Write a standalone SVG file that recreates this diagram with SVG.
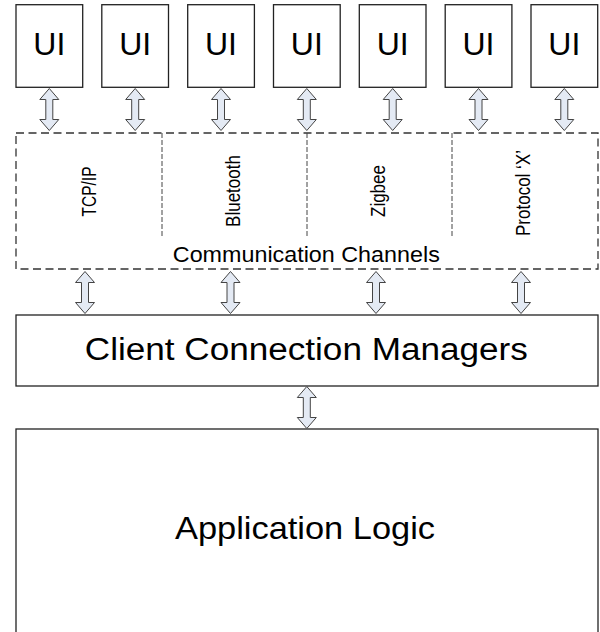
<svg xmlns="http://www.w3.org/2000/svg" xmlns:xlink="http://www.w3.org/1999/xlink" width="600" height="632" viewBox="0 0 600 632">
  <style>
    .box { fill: #ffffff; stroke: #222222; stroke-width: 1.3; }
    .channels { fill: none; stroke: #333333; stroke-width: 1.3; stroke-dasharray: 8 4.5; }
    .divider { fill: none; stroke: #444444; stroke-width: 1; stroke-dasharray: 5 2; }
    .label { font-family: "Liberation Sans", Arial, sans-serif; fill: #000000; text-anchor: middle; }
    .ui { font-size: 32px; }
    .proto { font-size: 17px; }
    .arrow { fill: #e4eaf4; stroke: #444444; stroke-width: 1; stroke-linejoin: miter; }
  </style>
  <defs>
    <!-- double-headed block arrow, 42px tall, tip at origin -->
    <path id="dblArrow" class="arrow" d="M0,0 L9.5,11 L3.5,11 L3.5,31 L9.5,31 L0,42 L-9.5,31 L-3.5,31 L-3.5,11 L-9.5,11 Z"/>
  </defs>

  <rect width="600" height="632" fill="#ffffff"/>

  <!-- UI clients -->
  <g id="ui1"><rect class="box" x="16" y="4.7" width="66.7" height="82.6"/><text class="label ui" x="49.3" y="55">UI</text></g>
  <g id="ui2"><rect class="box" x="101.8" y="4.7" width="66.7" height="82.6"/><text class="label ui" x="135.2" y="55">UI</text></g>
  <g id="ui3"><rect class="box" x="187.7" y="4.7" width="66.7" height="82.6"/><text class="label ui" x="221" y="55">UI</text></g>
  <g id="ui4"><rect class="box" x="273.5" y="4.7" width="66.7" height="82.6"/><text class="label ui" x="306.8" y="55">UI</text></g>
  <g id="ui5"><rect class="box" x="359.3" y="4.7" width="66.7" height="82.6"/><text class="label ui" x="392.7" y="55">UI</text></g>
  <g id="ui6"><rect class="box" x="445.2" y="4.7" width="66.7" height="82.6"/><text class="label ui" x="478.5" y="55">UI</text></g>
  <g id="ui7"><rect class="box" x="531" y="4.7" width="66.7" height="82.6"/><text class="label ui" x="564.3" y="55">UI</text></g>

  <!-- Communication channels container -->
  <g id="channels">
    <rect class="channels" x="16" y="133" width="582" height="136"/>
    <line class="divider" x1="162" y1="133" x2="162" y2="237"/>
    <line class="divider" x1="307" y1="133" x2="307" y2="237"/>
    <line class="divider" x1="452" y1="133" x2="452" y2="237"/>
    <text class="label proto" transform="translate(95.5,191.5) scale(1.18,1) rotate(-90)" textLength="50" lengthAdjust="spacingAndGlyphs">TCP/IP</text>
    <text class="label proto" transform="translate(239.5,191) scale(1.18,1) rotate(-90)">Bluetooth</text>
    <text class="label proto" transform="translate(384.5,191) scale(1.18,1) rotate(-90)">Zigbee</text>
    <text class="label proto" transform="translate(530,193) scale(1.18,1) rotate(-90)">Protocol &#8216;X&#8217;</text>
    <text class="label" x="306.3" y="261.7" font-size="22.5" textLength="267" lengthAdjust="spacingAndGlyphs">Communication Channels</text>
  </g>

  <!-- Client connection managers -->
  <g id="managers">
    <rect class="box" x="16" y="315" width="582" height="71"/>
    <text class="label" x="306.3" y="359.5" font-size="31" textLength="443" lengthAdjust="spacingAndGlyphs">Client Connection Managers</text>
  </g>

  <!-- Application logic -->
  <g id="logic">
    <rect class="box" x="16" y="429" width="582" height="220"/>
    <text class="label" x="305" y="539" font-size="31.5" textLength="260" lengthAdjust="spacingAndGlyphs">Application Logic</text>
  </g>

  <!-- Connectors -->
  <g id="connectors">
    <use xlink:href="#dblArrow" transform="translate(49.3,88.5)"/>
    <use xlink:href="#dblArrow" transform="translate(135.2,88.5)"/>
    <use xlink:href="#dblArrow" transform="translate(221,88.5)"/>
    <use xlink:href="#dblArrow" transform="translate(306.8,88.5)"/>
    <use xlink:href="#dblArrow" transform="translate(392.7,88.5)"/>
    <use xlink:href="#dblArrow" transform="translate(478.5,88.5)"/>
    <use xlink:href="#dblArrow" transform="translate(564.3,88.5)"/>

    <use xlink:href="#dblArrow" transform="translate(85,271.5)"/>
    <use xlink:href="#dblArrow" transform="translate(230.5,271.5)"/>
    <use xlink:href="#dblArrow" transform="translate(376,271.5)"/>
    <use xlink:href="#dblArrow" transform="translate(521,271.5)"/>

    <use xlink:href="#dblArrow" transform="translate(306.8,386.5)"/>
  </g>
</svg>
